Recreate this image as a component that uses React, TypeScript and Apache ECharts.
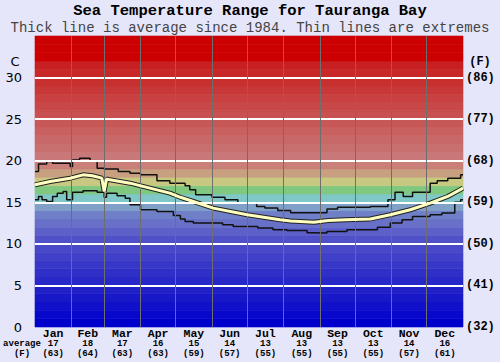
import React, { useEffect, useRef } from 'react';
import * as echarts from 'echarts';

const months = ['Jan', 'Feb', 'Mar', 'Apr', 'May', 'Jun', 'Jul', 'Aug', 'Sep', 'Oct', 'Nov', 'Dec'];
const monthStarts = [0, 31, 59, 90, 120, 151, 181, 212, 243, 273, 304, 334, 365];
const monthAvgC = [17, 18, 17, 16, 15, 14, 13, 13, 13, 13, 14, 16];
const monthAvgF = [63, 64, 63, 63, 59, 57, 55, 55, 55, 55, 57, 61];
const celsiusGrid = [5, 10, 15, 20, 25, 30];
const fahrenheitLabels = ['(32)', '(41)', '(50)', '(59)', '(68)', '(77)', '(86)'];

// [day of year, °C]
const maxLine = [
  [0, 18.7], [3, 19.6], [10, 19.9], [15, 19.7], [30, 19.3], [32, 20.1], [38, 20.3], [47, 20.0],
  [53, 19.1], [59, 19.0], [71, 18.7], [81, 18.5], [90, 18.3], [104, 17.6], [115, 17.3], [128, 17.0],
  [132, 16.5], [137, 15.9], [151, 15.6], [162, 15.3], [173, 14.9], [189, 14.5], [196, 14.3],
  [207, 14.0], [218, 13.75], [249, 14.2], [258, 14.4], [271, 14.4], [286, 14.5], [301, 15.3],
  [307, 16.2], [314, 15.7], [322, 16.2], [337, 17.3], [343, 17.6], [352, 17.9], [363, 18.3], [365, 18.3],
];
const minLine = [
  [0, 15.3], [3, 15.7], [6, 15.3], [10, 15.1], [15, 15.7], [19, 16.1], [24, 16.3], [27, 15.3],
  [32, 16.2], [41, 16.4], [53, 16.2], [59, 15.6], [61, 16.1], [70, 15.8], [77, 15.5], [81, 14.7],
  [90, 14.1], [104, 13.9], [118, 13.4], [124, 13.0], [128, 12.7], [135, 12.5], [160, 12.3],
  [169, 12.1], [190, 11.9], [203, 11.7], [215, 11.6], [232, 11.35], [237, 11.3], [249, 11.5],
  [266, 11.7], [292, 12.0], [303, 12.5], [313, 12.9], [322, 13.3], [337, 13.5], [347, 13.7],
  [358, 15.0], [363, 15.3], [365, 15.3],
];
const avgLine = [
  [0, 17.1], [13, 17.5], [30, 17.9], [41, 18.3], [49, 18.2], [57, 17.9], [59, 16.3], [61, 17.8],
  [64, 17.7], [81, 17.3], [98, 16.7], [115, 16.1], [124, 15.6], [135, 15.1], [152, 14.3],
  [181, 13.5], [209, 12.9], [218, 12.75], [238, 12.6], [250, 12.8], [265, 12.9], [286, 13.0],
  [303, 13.5], [320, 14.1], [337, 14.9], [352, 15.7], [365, 16.7],
];

// colour of each 1°C band, indexed by lower bound
const bandColors = [
  '#0000CC', '#0808CC', '#1010CA', '#1818C8', '#2020C8', '#2828C8', '#3030C8', '#3838C8',
  '#4040C8', '#4848C8', '#5050C8', '#5C60C8', '#6870C8', '#7080C8', '#80A0C8',
  '#80C8C8', '#80C880', '#C8C880', '#C8A080', '#C88078',
  '#C87878', '#C87070', '#C86868', '#C86060', '#C85858', '#C85050', '#C84848', '#C84040',
  '#C83838', '#C83030', '#C82828', '#C82020', '#CC0000', '#CC0000', '#CC0000',
];

const monthMids = months.map((_, i) => (monthStarts[i] + monthStarts[i + 1]) / 2);
const mono = 'Liberation Mono';

export default function App() {
  const ref = useRef<HTMLDivElement>(null);
  useEffect(() => {
    const chart = echarts.init(ref.current!, null, { renderer: 'svg' });
    const option: any = {
      animation: false,
      backgroundColor: '#E6E6FA',
      grid: { left: 35, right: 37, top: 36, bottom: 35 },
      xAxis: {
        type: 'value', min: 0, max: 365,
        axisLine: { show: false }, axisTick: { show: false }, splitLine: { show: false },
        axisLabel: {
          customValues: monthMids,
          margin: 1,
          formatter: (v: number) => {
            const i = monthMids.indexOf(v);
            if (i < 0) return '';
            return `{m|${months[i]}}\n{n|${monthAvgC[i]}}\n{n|(${monthAvgF[i]})}`;
          },
          rich: {
            m: { fontFamily: mono, fontWeight: 'bold', fontSize: 11.5, lineHeight: 11, color: '#000' },
            n: { fontFamily: mono, fontWeight: 'bold', fontSize: 9, lineHeight: 10, color: '#000' },
          },
        },
      },
      yAxis: [
        {
          type: 'value', min: 0, max: 35, interval: 5, position: 'left',
          axisLine: { show: false }, axisTick: { show: false }, splitLine: { show: false },
          axisLabel: {
            margin: 13, color: '#000', fontFamily: 'DejaVu Sans', fontSize: 13,
            formatter: (v: number) => (v === 35 ? '' : String(v)),
          },
        },
        {
          type: 'value', min: 0, max: 35, interval: 5, position: 'right',
          axisLine: { show: false }, axisTick: { show: false }, splitLine: { show: false },
          axisLabel: {
            margin: 3, color: '#000', fontFamily: mono, fontWeight: 'bold', fontSize: 12,
            formatter: (v: number) => fahrenheitLabels[v / 5] ?? '',
          },
        },
      ],
      series: [
        {
          type: 'line', yAxisIndex: 0, z: 1, silent: true,
          data: [[0, 0], [365, 0]], symbol: 'none', lineStyle: { width: 0, opacity: 0 },
          markArea: {
            silent: true,
            data: bandColors.map((c, i) => [
              { yAxis: i, itemStyle: { color: c, borderColor: c, borderWidth: 0.6 } },
              { yAxis: i + 1 },
            ]),
          },
        },
        {
          type: 'line', yAxisIndex: 0, z: 2, silent: true,
          data: [[0, 0], [365, 0]], symbol: 'none', lineStyle: { width: 0, opacity: 0 },
          markLine: {
            silent: true, symbol: ['none', 'none'], label: { show: false },
            data: [
              ...celsiusGrid.map((v) => ({ yAxis: v, lineStyle: { color: '#fff', width: 2, type: 'solid' } })),
              ...monthStarts.slice(1, -1).map((d) => ({ xAxis: d, lineStyle: { color: '#6e6e6e', width: 1, type: 'solid' } })),
            ],
          },
        },
        {
          type: 'line', data: maxLine, step: 'end', symbol: 'none', z: 3,
          lineStyle: { color: '#111', width: 1.5 },
        },
        {
          type: 'line', data: minLine, step: 'end', symbol: 'none', z: 3,
          lineStyle: { color: '#111', width: 1.5 },
        },
        {
          type: 'line', data: avgLine, symbol: 'none', z: 4,
          lineStyle: { color: '#222', width: 5 },
        },
        {
          type: 'line', data: avgLine, symbol: 'none', z: 5,
          lineStyle: { color: '#FFFFC0', width: 3 },
        },
      ],
      graphic: [
        { type: 'text', x: 250, y: 11, style: { text: 'Sea Temperature Range for Tauranga Bay', fontFamily: mono, fontWeight: 'bold', fontSize: 15.5, fill: '#000', textAlign: 'center', textVerticalAlign: 'middle' } },
        { type: 'text', x: 250, y: 27.5, style: { text: 'Thick line is average since 1984. Thin lines are extremes', fontFamily: mono, fontSize: 14, fill: '#444', textAlign: 'center', textVerticalAlign: 'middle' } },
        { type: 'text', x: 15, y: 61, style: { text: 'C', fontFamily: 'DejaVu Sans', fontSize: 13, fill: '#000', textAlign: 'center', textVerticalAlign: 'middle' } },
        { type: 'text', x: 480, y: 62, style: { text: '(F)', fontFamily: mono, fontWeight: 'bold', fontSize: 12, fill: '#000', textAlign: 'center', textVerticalAlign: 'middle' } },
        { type: 'text', x: 22, y: 344, style: { text: 'average', fontFamily: mono, fontWeight: 'bold', fontSize: 9, fill: '#000', textAlign: 'center', textVerticalAlign: 'middle' } },
        { type: 'text', x: 22, y: 354, style: { text: '(F)', fontFamily: mono, fontWeight: 'bold', fontSize: 9, fill: '#000', textAlign: 'center', textVerticalAlign: 'middle' } },
      ],
    };
    chart.setOption(option);
    return () => chart.dispose();
  }, []);
  return <div ref={ref} style={{ position: 'fixed', left: 0, top: 0, width: 500, height: 362 }} />;
}
